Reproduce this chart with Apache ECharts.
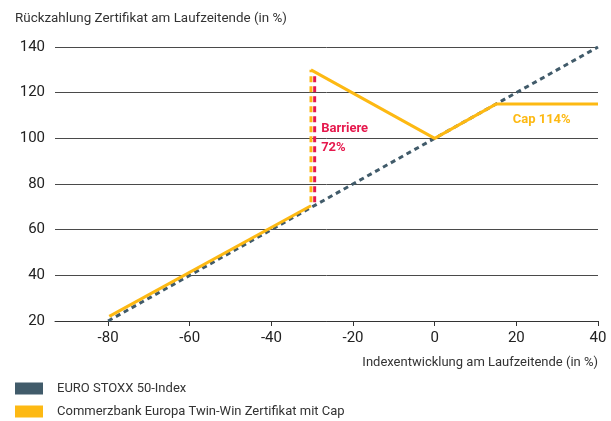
<!DOCTYPE html>
<html>
<head>
<meta charset="utf-8">
<script src="https://cdn.jsdelivr.net/npm/echarts@6/dist/echarts.min.js"></script>
<style>
html,body{margin:0;padding:0;background:#fff;}
#chart{width:611px;height:421px;}
</style>
</head>
<body>
<div id="chart"></div>
<script>
// ---- data ----
const xTicks = [-80, -60, -40, -20, 0, 20, 40];
const yTicks = [20, 40, 60, 80, 100, 120, 140];
const indexLine = [[-80, 20], [40, 140]];
const certLower = [[-79.7, 22], [-30.3, 70.5]];
const certUpper = [[-30.3, 130], [0, 100], [15, 115], [40, 115]];
const certBarrierJump = [[-30.3, 72], [-30.3, 130]];
const barrierLine = [[-29.4, 72], [-29.4, 128]];
const barrierLabel = ['Barriere', '72%'];
const capLabel = 'Cap 114%';
const legendNames = ['EURO STOXX 50-Index', 'Commerzbank Europa Twin-Win Zertifikat mit Cap'];
const titleText = 'Rückzahlung Zertifikat am Laufzeitende (in %)';
const xAxisName = 'Indexentwicklung am Laufzeitende (in %)';

const SLATE = '#415b6a';
const YELLOW = '#fdb913';
const RED = '#e6194d';
const FONT = 'Roboto';

const hiddenPoint = {symbol: 'circle', symbolSize: 1, itemStyle: {color: 'rgba(0,0,0,0)'}};

const chart = echarts.init(document.getElementById('chart'), null, {renderer: 'canvas'});
chart.setOption({
  animation: false,
  textStyle: {fontFamily: FONT},
  grid: {left: 55, right: 13, top: 47, bottom: 100, containLabel: false},
  xAxis: {
    type: 'value', min: -93, max: 40,
    splitLine: {show: false},
    axisLine: {show: true, onZero: false, lineStyle: {color: '#333', width: 1}},
    axisTick: {show: true, customValues: xTicks, length: 5, lineStyle: {color: '#333'}},
    axisLabel: {customValues: xTicks, fontSize: 15, color: '#222', margin: 10, fontFamily: FONT}
  },
  yAxis: {
    type: 'value', min: 20, max: 140, interval: 20,
    axisLine: {show: false}, axisTick: {show: false},
    splitLine: {show: true, lineStyle: {color: '#4a4a4a', width: 1}},
    axisLabel: {fontSize: 15, color: '#222', margin: 10, fontFamily: FONT}
  },
  legend: [
    {
      left: 10, top: 377, itemWidth: 28, itemHeight: 12,
      icon: 'rect', data: [legendNames[0]], selectedMode: false,
      textStyle: {fontSize: 13, color: '#333', fontFamily: FONT, padding: [0, 0, 0, 9]}
    },
    {
      left: 10, top: 400, itemWidth: 28, itemHeight: 12,
      icon: 'rect', data: [legendNames[1]], selectedMode: false,
      textStyle: {fontSize: 13, color: '#333', fontFamily: FONT, padding: [0, 0, 0, 9]}
    }
  ],
  graphic: [
    {type: 'text', left: 15, top: 12, style: {text: titleText, font: '13.4px ' + FONT, fill: '#333'}},
    {type: 'text', right: 13, top: 356, style: {text: xAxisName, font: '13px ' + FONT, fill: '#333'}}
  ],
  series: [
    {
      name: legendNames[0], type: 'line', data: indexLine, symbol: 'none', z: 3,
      itemStyle: {color: SLATE},
      lineStyle: {color: SLATE, width: 3, type: [5, 4]}
    },
    {
      name: legendNames[1], type: 'line', data: certLower, symbol: 'none', z: 4,
      itemStyle: {color: YELLOW},
      lineStyle: {color: YELLOW, width: 3}
    },
    {
      name: legendNames[1], type: 'line', data: certUpper, symbol: 'none', z: 4,
      itemStyle: {color: YELLOW},
      lineStyle: {color: YELLOW, width: 3},
      markPoint: Object.assign({}, hiddenPoint, {
        data: [{coord: [26.2, 115], label: {show: true, formatter: capLabel, position: 'inside', offset: [0, 16], color: YELLOW, fontWeight: 'bold', fontSize: 13, fontFamily: FONT}}]
      })
    },
    {
      name: 'jump', type: 'line', data: certBarrierJump, symbol: 'none', z: 4,
      lineStyle: {color: YELLOW, width: 3, type: [6, 4]}
    },
    {
      name: 'barrier', type: 'line', data: barrierLine, symbol: 'none', z: 4,
      lineStyle: {color: RED, width: 3, type: [6, 4]},
      markPoint: Object.assign({}, hiddenPoint, {
        data: [{coord: [-29.4, 100], label: {show: true, formatter: barrierLabel.join('\n'), position: 'right', distance: 6, align: 'left', color: RED, fontWeight: 'bold', fontSize: 13, lineHeight: 19, fontFamily: FONT}}]
      })
    }
  ]
});
</script>
</body>
</html>
